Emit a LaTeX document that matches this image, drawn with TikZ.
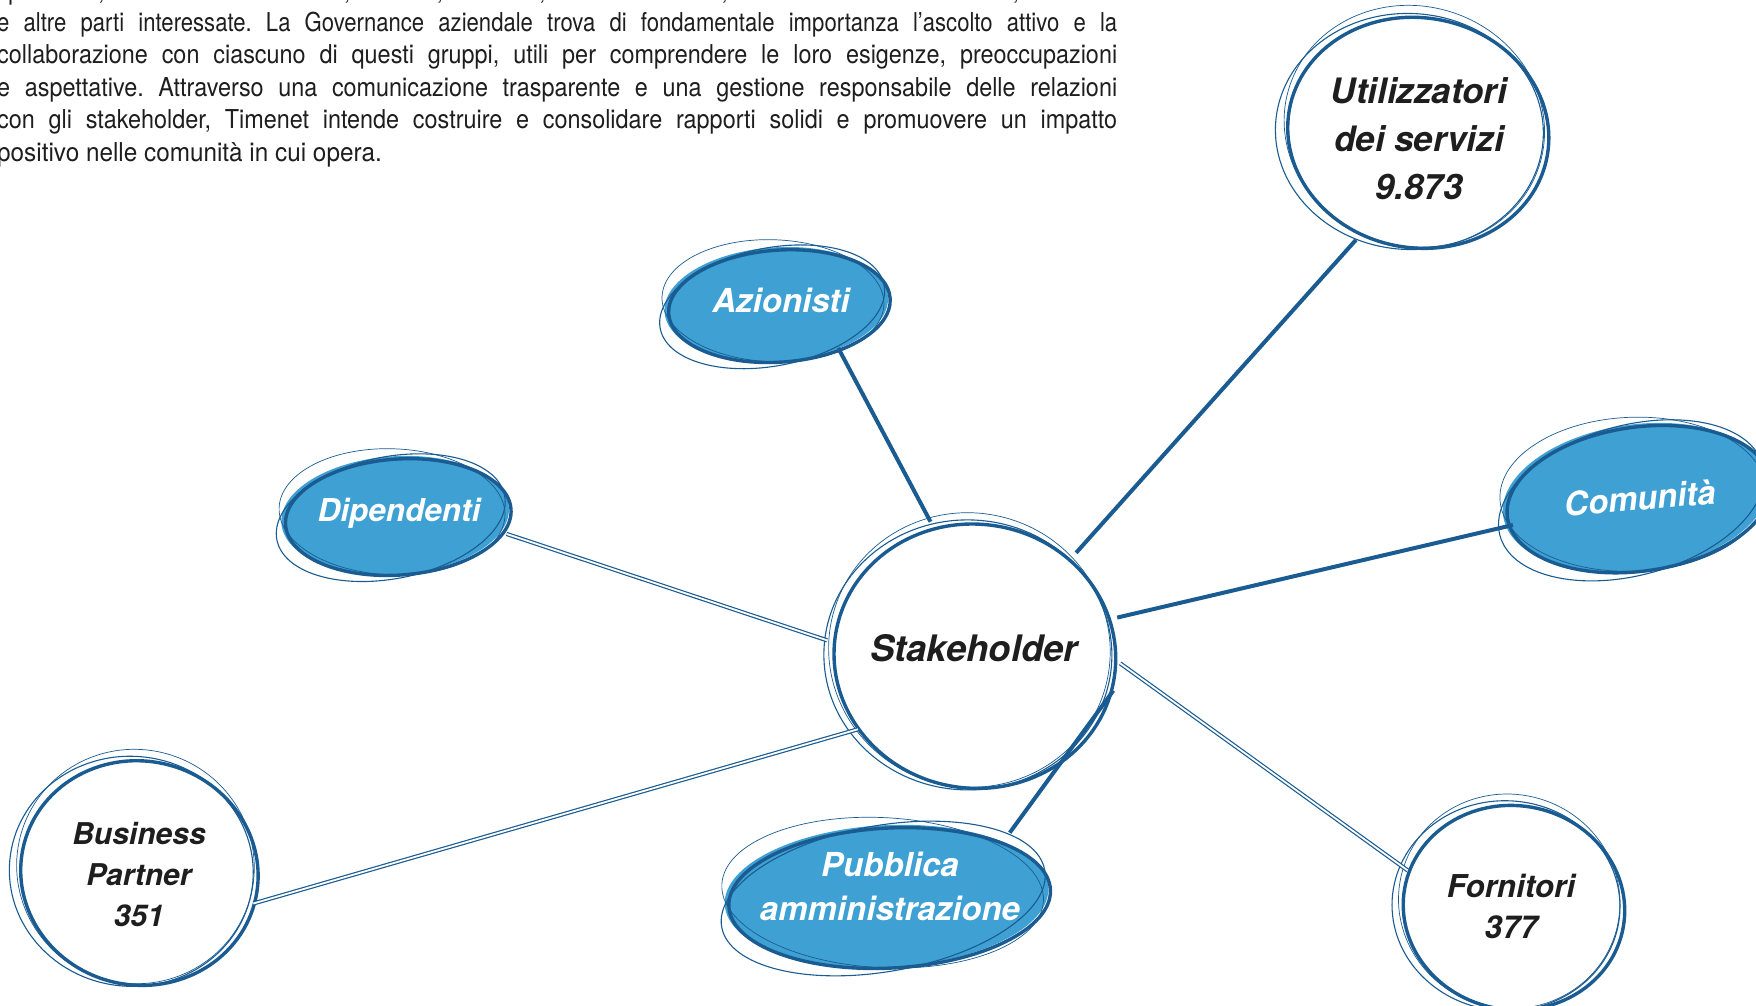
\documentclass[tikz,border=0pt]{standalone}
\usepackage{fontspec}
\setmainfont{TeX Gyre Heros}
\newfontfamily\parafont[FakeStretch=0.9]{TeX Gyre Heros}
\newfontfamily\paratight[FakeStretch=0.85]{TeX Gyre Heros}
\newfontfamily\parawide[FakeStretch=0.935]{TeX Gyre Heros}
\usetikzlibrary{shapes.geometric}
\pgfdeclarelayer{bg}
\pgfsetlayers{bg,main}
\definecolor{dblue}{RGB}{26,92,145}
\definecolor{lblue}{RGB}{62,160,211}
\definecolor{ink}{RGB}{30,30,30}
\tikzset{
  bubble/.style={ellipse, inner sep=0pt, text=ink, align=center,
    font=\bfseries\itshape\fontsize{31}{41}\selectfont},
  fbubble/.style={ellipse, inner sep=0pt, text=white, align=center,
    font=\bfseries\itshape\fontsize{32}{41}\selectfont},
  ring/.style={draw=dblue},
  thickedge/.style={draw=dblue, line width=4pt},
  dbledge/.style={draw=dblue, line width=1.2pt, double=white, double distance=1.8pt},
  para/.style={anchor=base west, inner sep=0pt, text=ink,
    font=\frenchspacing\parafont\fontsize{26}{32}\selectfont}
}
% name, rx, ry, rotation, dx, dy
\newcommand\ringset[6]{%
  \draw[ring, line width=3.4pt, rotate around={#4:([shift={(#5,#6)}]#1.center)}]
    ([shift={(#5+3,#6+2)}]#1.center) ellipse [x radius={(#2+1)*1pt}, y radius={(#3)*1pt}];
  \draw[ring, line width=1.1pt, rotate around={#4+7:([shift={(#5,#6)}]#1.center)}]
    ([shift={(#5-5,#6+1)}]#1.center) ellipse [x radius={(#2+4)*1pt}, y radius={(#3+3)*1pt}];
  \draw[ring, line width=0.7pt, rotate around={#4-6:([shift={(#5,#6)}]#1.center)}]
    ([shift={(#5-3,#6-3)}]#1.center) ellipse [x radius={(#2+1)*1pt}, y radius={(#3+5)*1pt}];
}
% fill: name, rx, ry, rotation, dx, dy
\newcommand\fillset[6]{%
  \begin{pgfonlayer}{bg}
  \fill[lblue, rotate around={#4:([shift={(#5,#6)}]#1.center)}]
    ([shift={(#5,#6)}]#1.center) ellipse [x radius={(#2+2)*1pt}, y radius={(#3+1)*1pt}];
  \end{pgfonlayer}
}
\begin{document}
\begin{tikzpicture}[x=1pt, y=-1pt]
\useasboundingbox (0,0) rectangle (1756,1005);
\clip (0,0) rectangle (1756,1005);
\begin{pgfonlayer}{bg}
\fill[white] (0,0) rectangle (1756,1005);
\end{pgfonlayer}

% paragraph
\node[para] (p1) at (-14,-1) {\makebox[1131pt][s]{Dipendenti, Utilizzatori dei servizi, Partner, Fornitori, Comunità locali, Pubblica Amministrazione, Azionisti}};
\node[para, font=\frenchspacing\paratight\fontsize{26}{32}\selectfont] (p2) at (-3,31.5) {\makebox[1120pt][s]{e altre parti interessate. La Governance aziendale trova di fondamentale importanza l’ascolto attivo e la}};
\node[para] (p3) at (-3,63.9) {\makebox[1120pt][s]{collaborazione con ciascuno di questi gruppi, utili per comprendere le loro esigenze, preoccupazioni}};
\node[para] (p4) at (-3,96.2) {\makebox[1120pt][s]{e aspettative. Attraverso una comunicazione trasparente e una gestione responsabile delle relazioni}};
\node[para] (p5) at (-3,128.6) {\makebox[1120pt][s]{con gli stakeholder, Timenet intende costruire e consolidare rapporti solidi e promuovere un impatto}};
\node[para, font=\frenchspacing\parawide\fontsize{26}{32}\selectfont] (p6) at (-3,161) {positivo nelle comunità in cui opera.};

% nodes (placed at text centre)
\node[bubble, minimum width=280pt, minimum height=264pt,
  font=\bfseries\itshape\fontsize{36.5}{46}\selectfont] (stake) at (974,648) {Stakeholder};
\node[bubble, minimum width=260pt, minimum height=230pt,
  font=\bfseries\itshape\fontsize{35}{48}\selectfont] (util) at (1419,139) {Utilizzatori\\dei servizi\\9.873};
\node[fbubble, minimum width=220pt, minimum height=112pt,
  font=\bfseries\itshape\fontsize{33}{41}\selectfont] (azi) at (781,300) {Azionisti};
\node[fbubble, minimum width=224pt, minimum height=116pt,
  font=\bfseries\itshape\fontsize{31.5}{41}\selectfont] (dip) at (399,513) {Dipendenti};
\node[fbubble, minimum width=264pt, minimum height=144pt, rotate=5,
  font=\bfseries\itshape\fontsize{33}{41}\selectfont] (com) at (1640,498) {Comunità};
\node[fbubble, minimum width=320pt, minimum height=140pt,
  font=\bfseries\itshape\fontsize{33}{44}\selectfont] (pub) at (890,886) {Pubblica\\amministrazione};
\node[bubble, minimum width=236pt, minimum height=224pt,
  font=\bfseries\itshape\fontsize{30}{41}\selectfont] (bp) at (139,875) {Business\\Partner\\351};
\node[bubble, minimum width=220pt, minimum height=204pt,
  font=\bfseries\itshape\fontsize{31.5}{41}\selectfont] (forn) at (1511,906) {Fornitori\\377};

% fills of the coloured bubbles
\fillset{azi}{110}{56}{4}{-5}{4}
\fillset{dip}{112}{58}{4}{-4}{2}
\fillset{com}{132}{72}{8}{-4}{-1}
\fillset{pub}{160}{70}{3}{-4}{10}

% rings
\ringset{stake}{140}{132}{-8}{-1}{6}
\ringset{util}{130}{115}{-10}{-5}{-8}
\ringset{azi}{110}{56}{4}{-5}{4}
\ringset{dip}{112}{58}{4}{-4}{2}
\ringset{com}{132}{72}{8}{-4}{-1}
\ringset{pub}{160}{70}{3}{-4}{10}
\ringset{bp}{118}{112}{-12}{-3}{-4}
\ringset{forn}{110}{102}{-10}{0}{-1}

% connectors
\draw[thickedge] (azi.-40) -- (stake.109);
\draw[thickedge] (util.-122) -- (stake.43);
\draw[thickedge] (com.187) -- (stake.12);
\draw[thickedge] (pub.24) -- (stake.-17);
\draw[dbledge] (dip.-11) -- (stake.177);
\draw[dbledge] (bp.-14) -- (stake.215);
\draw[dbledge] (forn.161) -- (stake.-6);
\end{tikzpicture}
\end{document}
